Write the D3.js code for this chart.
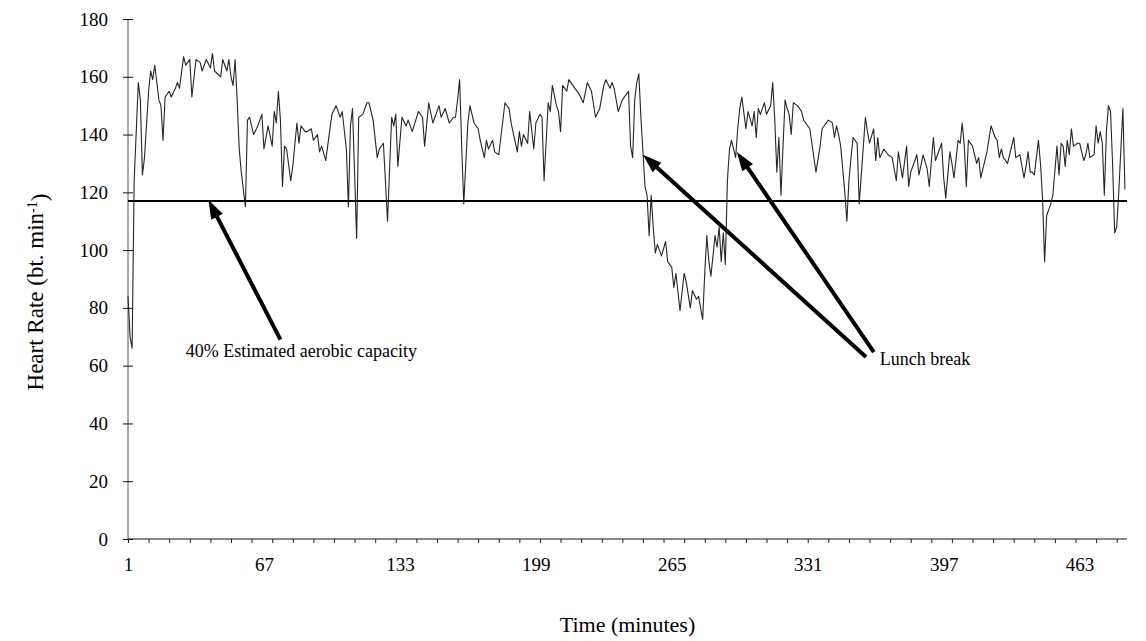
<!DOCTYPE html>
<html>
<head>
<meta charset="utf-8">
<script src="https://cdnjs.cloudflare.com/ajax/libs/d3/7.8.5/d3.min.js"></script>
<style>
  body { margin: 0; background: #fff; }
  text { font-family: "Liberation Serif", "Times New Roman", serif; fill: #000; }
</style>
</head>
<body>
<div class="chart"></div>
<script>
// Data: minute of the shift and heart rate (bt/min)
var minutes = [1, 2, 3, 4, 6, 7, 8, 9, 11, 12, 13, 14, 16, 17, 18, 19, 21, 22, 24, 25, 26, 28, 29, 30, 31, 32, 34, 36, 37, 39,
  41, 42, 43, 46, 47, 49, 50, 51, 52, 53, 54, 55, 56, 57, 58, 59, 60, 62, 64, 66, 67, 69, 71, 72, 73, 74, 75, 76, 77, 78,
  80, 81, 83, 84, 85, 87, 88, 90, 91, 93, 94, 95, 97, 100, 102, 104, 105, 107, 108, 109, 110, 112, 113, 115, 117, 118, 120, 122, 123, 125,
  127, 129, 130, 131, 132, 134, 136, 137, 139, 142, 144, 145, 147, 149, 152, 153, 155, 157, 159, 160, 161, 162, 163, 164, 166, 167, 169, 171, 172, 174,
  175, 176, 178, 179, 181, 182, 184, 186, 187, 190, 191, 192, 193, 195, 196, 198, 199, 201, 202, 203, 205, 206, 207, 209, 210, 211, 212, 214, 215, 216,
  218, 220, 222, 224, 226, 228, 230, 232, 233, 235, 236, 237, 239, 241, 243, 244, 245, 246, 247, 248, 249, 250, 251, 252, 253, 254, 255, 256, 257, 258,
  260, 262, 263, 265, 266, 267, 269, 271, 272, 274, 275, 277, 278, 280, 281, 282, 283, 284, 286, 287, 288, 289, 290, 291, 292, 293, 294, 296, 297, 298,
  299, 301, 302, 304, 305, 306, 307, 308, 310, 311, 313, 314, 315, 316, 317, 318, 319, 320, 321, 322, 323, 324, 326, 328, 329, 330, 332, 333, 335, 337,
  338, 341, 343, 344, 345, 346, 347, 349, 350, 351, 352, 353, 355, 356, 358, 359, 360, 361, 363, 364, 365, 366, 368, 370, 372, 374, 375, 377, 379, 380,
  381, 384, 385, 387, 389, 390, 392, 393, 396, 397, 398, 400, 401, 402, 404, 405, 406, 407, 408, 409, 411, 413, 414, 415, 418, 420, 422, 423, 424, 425,
  426, 428, 429, 431, 432, 434, 436, 437, 438, 439, 440, 441, 443, 444, 445, 446, 447, 449, 450, 452, 453, 454, 455, 456, 457, 458, 459, 460, 462, 463,
  465, 466, 467, 468, 470, 471, 472, 473, 474, 475, 476, 477, 478, 479, 480, 481, 482, 484, 485];

var heartRate = [84, 70, 66, 124, 158, 152, 126, 132, 155, 162, 159, 164, 152, 150, 138, 153, 155, 153, 156, 158, 156, 167, 164, 165, 166, 153, 166, 165, 162, 166,
  163, 168, 162, 160, 166, 162, 166, 160, 157, 166, 152, 135, 127, 121, 115, 145, 146, 140, 143, 147, 135, 143, 136, 148, 144, 155, 145, 122, 136, 135,
  124, 129, 144, 137, 143, 141, 141, 142, 138, 140, 134, 136, 131, 147, 150, 146, 148, 135, 115, 143, 149, 104, 146, 147, 151, 151, 145, 132, 135, 137,
  110, 146, 143, 147, 129, 146, 143, 145, 141, 148, 146, 136, 151, 144, 150, 146, 149, 144, 146, 146, 152, 159, 136, 116, 144, 150, 144, 142, 138, 132,
  138, 135, 138, 134, 133, 139, 151, 149, 144, 134, 141, 136, 140, 137, 148, 135, 144, 147, 146, 124, 151, 148, 157, 150, 148, 141, 157, 155, 159, 158,
  156, 154, 151, 158, 155, 146, 149, 157, 159, 156, 158, 156, 148, 152, 154, 155, 136, 132, 152, 158, 161, 146, 134, 122, 119, 105, 119, 108, 99, 102,
  98, 103, 96, 94, 87, 92, 79, 92, 89, 80, 86, 83, 84, 76, 92, 105, 96, 91, 105, 101, 108, 96, 106, 95, 124, 135, 138, 132, 142, 149,
  153, 142, 148, 143, 148, 139, 149, 147, 151, 147, 150, 158, 145, 127, 139, 119, 136, 152, 149, 147, 140, 151, 150, 148, 145, 144, 142, 137, 127, 136,
  142, 145, 144, 139, 143, 140, 136, 120, 110, 124, 132, 139, 137, 116, 136, 146, 141, 137, 142, 131, 139, 132, 135, 133, 132, 124, 134, 125, 136, 122,
  127, 133, 126, 133, 128, 122, 139, 131, 137, 125, 118, 134, 130, 125, 138, 137, 144, 136, 122, 138, 136, 130, 132, 125, 134, 143, 139, 138, 132, 135,
  132, 130, 133, 139, 132, 133, 125, 129, 134, 127, 127, 126, 138, 130, 118, 96, 112, 116, 119, 136, 126, 137, 136, 129, 138, 133, 142, 136, 137, 137,
  131, 133, 137, 132, 133, 143, 137, 141, 137, 119, 141, 150, 148, 130, 106, 108, 120, 149, 121];

var yTicks = [0, 20, 40, 60, 80, 100, 120, 140, 160, 180];
var xLabels = [1, 67, 133, 199, 265, 331, 397, 463];
var xMinorTicks = d3.range(1, 487, 10);
var threshold = 117; // 40% estimated aerobic capacity

var svgWidth = 1146;
var svgHeight = 641;

var margin = {
  top: 19,
  right: 19,
  bottom: 102,
  left: 128
};

var width = svgWidth - margin.left - margin.right;
var height = svgHeight - margin.top - margin.bottom;

var svg = d3.select(".chart")
  .append("svg")
  .attr("width", svgWidth)
  .attr("height", svgHeight);

var chartGroup = svg.append("g")
  .attr("transform", `translate(${margin.left}, ${margin.top})`);

// scales
var xScale = d3.scaleLinear()
  .domain([1, 486])
  .range([0, width]);

var yScale = d3.scaleLinear()
  .domain([0, 180])
  .range([height, 0]);

// y axis, ticks cross the axis line
var leftAxis = d3.axisLeft(yScale)
  .tickValues(yTicks)
  .tickSize(5)
  .tickPadding(15)
  .tickFormat(d3.format("d"));

var yAxis = chartGroup.append("g")
  .call(leftAxis);
yAxis.selectAll(".tick line").attr("x1", 5).attr("stroke", "#111");
yAxis.select(".domain").attr("d", `M0,${height}V0`).attr("stroke", "#555");
yAxis.selectAll("text").attr("font-size", "19px").attr("font-family", "Liberation Serif");

// x axis: minor ticks every 10 min, labels every 66 min
var minorAxis = d3.axisBottom(xScale)
  .tickValues(xMinorTicks)
  .tickSize(4)
  .tickFormat("");

var xAxis = chartGroup.append("g")
  .attr("transform", `translate(0, ${height})`)
  .call(minorAxis);
xAxis.select(".domain").attr("d", `M0,0H${width}`).attr("stroke", "#111");
xAxis.selectAll(".tick line").attr("stroke", "#222");

var labelAxis = d3.axisBottom(xScale)
  .tickValues(xLabels)
  .tickSize(0)
  .tickPadding(19)
  .tickFormat(d3.format("d"));

var xLabelGroup = chartGroup.append("g")
  .attr("transform", `translate(0, ${height})`)
  .call(labelAxis);
xLabelGroup.select(".domain").remove();
xLabelGroup.selectAll("text").attr("font-size", "19px").attr("font-family", "Liberation Serif");

// heart rate trace
var hrData = minutes.map((m, i) => ({ t: m, hr: heartRate[i] }));

var hrLine = d3.line()
  .x(d => xScale(d.t))
  .y(d => yScale(d.hr));

chartGroup.append("path")
  .datum(hrData)
  .attr("d", hrLine)
  .attr("fill", "none")
  .attr("stroke", "#262626")
  .attr("stroke-width", 1.1)
  .attr("stroke-linejoin", "round");

// 40% aerobic capacity line
chartGroup.append("line")
  .attr("x1", xScale(1))
  .attr("x2", xScale(486))
  .attr("y1", yScale(threshold))
  .attr("y2", yScale(threshold))
  .attr("stroke", "#000")
  .attr("stroke-width", 2.2);

// annotations, anchored in data units
function drawArrow(tail, tip) {
  var x0 = xScale(tail[0]), y0 = yScale(tail[1]);
  var x1 = xScale(tip[0]), y1 = yScale(tip[1]);
  var len = Math.hypot(x1 - x0, y1 - y0);
  var ux = (x1 - x0) / len, uy = (y1 - y0) / len;
  var headL = 19, headW = 6.5;
  chartGroup.append("line")
    .attr("x1", x0).attr("y1", y0)
    .attr("x2", x1 - ux * (headL - 3)).attr("y2", y1 - uy * (headL - 3))
    .attr("stroke", "#000")
    .attr("stroke-width", 4);
  var bx = x1 - ux * headL, by = y1 - uy * headL;
  chartGroup.append("path")
    .attr("d", `M${x1},${y1}L${bx - uy * headW},${by + ux * headW}L${bx + uy * headW},${by - ux * headW}Z`)
    .attr("fill", "#000");
}

drawArrow([75, 69], [40, 117.4]);
drawArrow([359.3, 63], [251, 133]);
drawArrow([363.1, 64.7], [296.6, 134]);

chartGroup.append("text")
  .attr("x", xScale(29))
  .attr("y", yScale(63))
  .attr("font-size", "18px")
  .text("40% Estimated aerobic capacity");

chartGroup.append("text")
  .attr("x", xScale(366))
  .attr("y", yScale(60.2))
  .attr("font-size", "18px")
  .text("Lunch break");

// axis titles
var yTitle = svg.append("text")
  .attr("transform", `translate(43, ${margin.top + height * 0.525}) rotate(-90)`)
  .attr("text-anchor", "middle")
  .attr("font-size", "23px");
yTitle.append("tspan").text("Heart Rate (bt. min");
yTitle.append("tspan").attr("dy", "-0.45em").attr("font-size", "14px").text("-1");
yTitle.append("tspan").attr("dy", "0.45em").text(")");

svg.append("text")
  .attr("x", margin.left + width / 2)
  .attr("y", 632)
  .attr("text-anchor", "middle")
  .attr("font-size", "22px")
  .text("Time (minutes)");
</script>
</body>
</html>
